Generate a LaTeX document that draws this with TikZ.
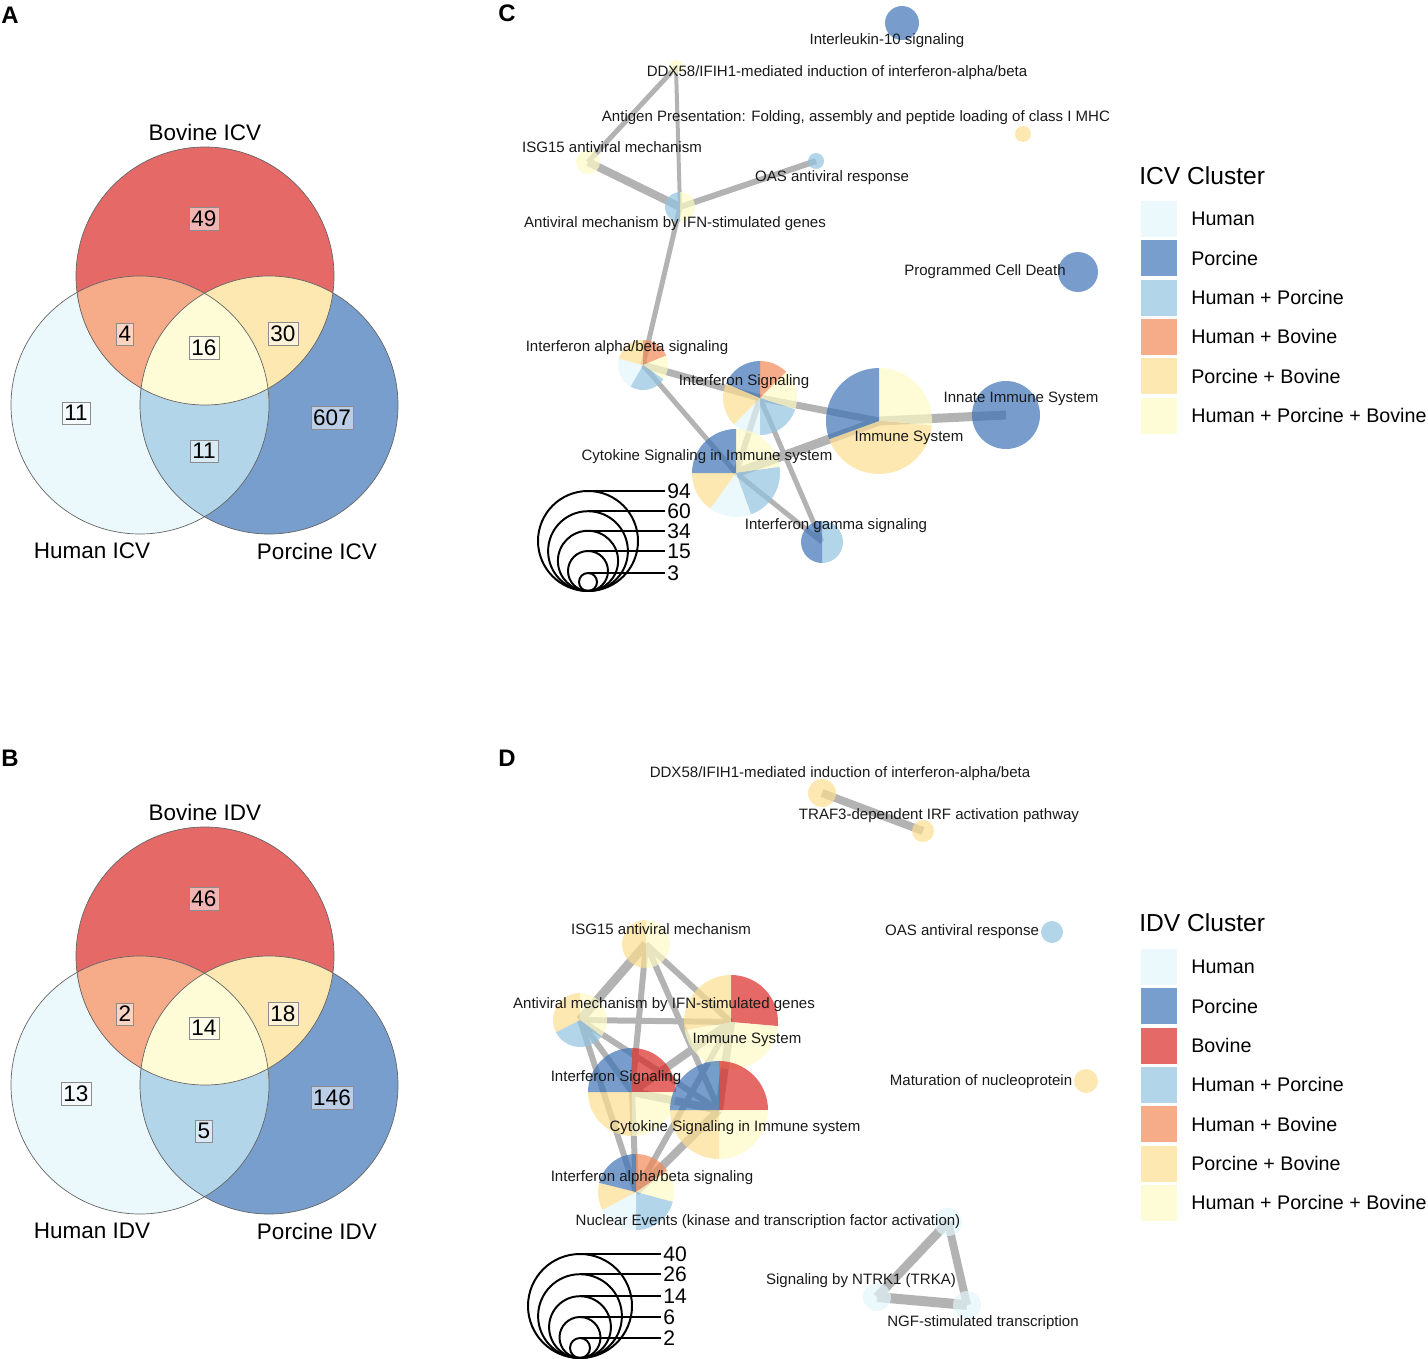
\documentclass[tikz,border=0pt]{standalone}
\usepackage{fontspec}
\setmainfont{Liberation Sans}
\definecolor{hum}{HTML}{E2F5FB}
\definecolor{por}{HTML}{3E74B8}
\definecolor{bov}{HTML}{DA2926}
\definecolor{hp}{HTML}{92C3E1}
\definecolor{hb}{HTML}{F28757}
\definecolor{pb}{HTML}{FCDE90}
\definecolor{hpb}{HTML}{FEFBC6}
\definecolor{edgegray}{HTML}{B3B3B3}
\newcommand{\pienode}[3]{\foreach \a/\b/\col in {#3}{\fill[\col,fill opacity=0.7] (#1) -- ++(\a:#2) arc[start angle=\a,end angle=\b,radius=#2] -- cycle;}}

\begin{document}
\begin{tikzpicture}[x=0.25mm,y=0.25mm,
  lab/.style={font=\fontsize{10.7}{12}\selectfont,inner sep=0pt,text=black!90},
  edgeln/.style={draw=edgegray,line width=#1*0.711pt},
  cnt/.style={draw=black!45,line width=0.4pt,fill=white,fill opacity=0.5,text opacity=1,inner xsep=1.7pt,inner ysep=2.4pt,font=\fontsize{16}{18}\selectfont},
  vlab/.style={font=\fontsize{16}{18}\selectfont,inner sep=0pt},
  vring/.style={draw=black!60,line width=0.5pt},
  sizering/.style={draw=black,line width=1.4pt},
  sizetxt/.style={font=\fontsize{15}{16}\selectfont,inner sep=0pt,anchor=west},
  legbox/.style={minimum size=9mm,inner sep=0pt},
  legtxt/.style={font=\fontsize{14}{16}\selectfont,anchor=west,inner sep=0pt},
  legtitle/.style={font=\fontsize{17.5}{20}\selectfont,anchor=west,inner sep=0pt},
  panel/.style={font=\bfseries\fontsize{17}{20}\selectfont,inner sep=0pt}]
\useasboundingbox (0,0) rectangle (1428,-1359);

% Venn diagrams A and B
\foreach \p/\dy in {a/0,b/680}{
  \coordinate (bov\p) at (205,-276-\dy);
  \coordinate (hum\p) at (140,-405-\dy);
  \coordinate (por\p) at (269,-405-\dy);
  \fill[hum!70] (hum\p) circle[radius=129];
  \fill[por!70] (por\p) circle[radius=129];
  \fill[bov!70] (bov\p) circle[radius=129];
  \begin{scope}
    \clip (hum\p) circle[radius=129];
    \fill[hp!70] (por\p) circle[radius=129];
    \fill[hb!70] (bov\p) circle[radius=129];
  \end{scope}
  \begin{scope}
    \clip (por\p) circle[radius=129];
    \fill[pb!70] (bov\p) circle[radius=129];
    \clip (hum\p) circle[radius=129];
    \fill[hpb!70] (bov\p) circle[radius=129];
  \end{scope}
  \foreach \q in {bov,hum,por} \draw[vring] (\q\p) circle[radius=129];
}
\node[vlab] (va1) at (205,-132) {Bovine ICV};
\node[vlab] (va2) at (92,-551) {Human ICV};
\node[vlab] (va3) at (317,-551) {Porcine ICV};
\foreach \n/\x/\y [count=\i] in {49/204/219,4/125/334,16/204/348,30/283/334,11/76/413,607/332/418,11/204/451}
  \node[cnt] (na\i) at (\x,-\y) {\n};
\node[vlab] (vb1) at (205,-812) {Bovine IDV};
\node[vlab] (vb2) at (92,-1231) {Human IDV};
\node[vlab] (vb3) at (317,-1231) {Porcine IDV};
\foreach \n/\x/\y [count=\i] in {46/204/899,2/125/1014,14/204/1028,18/283/1014,13/76/1094,146/332/1098,5/204/1131}
  \node[cnt] (nb\i) at (\x,-\y) {\n};

% network C
\coordinate (cil) at (902,-23);
\coordinate (cddx) at (676,-67);
\coordinate (cag) at (1023,-134);
\coordinate (cisg) at (588,-162);
\coordinate (coas) at (816,-161);
\coordinate (cavm) at (680,-207);
\coordinate (cpcd) at (1078,-272);
\coordinate (cab) at (643,-365);
\coordinate (cifn) at (760,-398);
\coordinate (cinn) at (1006,-415);
\coordinate (cimm) at (879,-421);
\coordinate (ccyt) at (736,-473);
\coordinate (cgam) at (822,-542);
\foreach \u/\v/\w in {cddx/cisg/5,cddx/cavm/4,cisg/cavm/8,cavm/coas/6,cavm/cab/5,cab/cifn/7,cab/ccyt/5,cifn/ccyt/6,cifn/cgam/5,ccyt/cgam/5,cifn/cimm/7,ccyt/cimm/9,cimm/cinn/9}
  \draw[edgeln=\w] (\u) -- (\v);
\pienode{cil}{17}{90/-270/por}
\pienode{cddx}{7}{90/-270/hpb}
\pienode{cag}{8}{90/-270/pb}
\pienode{cisg}{12}{90/-270/hpb}
\pienode{coas}{8}{90/-270/hp}
\pienode{cavm}{15}{90/-90/hpb,-90/-270/hp}
\pienode{cpcd}{20}{90/-270/por}
\pienode{cab}{25}{90/22/hb,22/-35/hpb,-35/-120/hp,-120/-195/hum,-195/-270/pb}
\pienode{cifn}{37}{90/45/hb,45/-18/hpb,-18/-90/hp,-90/-135/hum,-135/-203/pb,-203/-270/por}
\pienode{cinn}{34}{90/-270/por}
\pienode{cimm}{53}{90/-5/hpb,-5/-160/pb,-160/-270/por}
\pienode{ccyt}{44}{90/8/hpb,8/-70/hp,-70/-126/hum,-126/-180/pb,-180/-270/por}
\pienode{cgam}{21}{90/-90/hp,-90/-270/por}
\node[lab] (tcil) at (887,-41) {Interleukin-10 signaling};
\node[lab] (tcddx) at (837,-73) {DDX58/IFIH1-mediated induction of interferon-alpha/beta};
\node[lab] (tcag) at (856,-118) {Antigen Presentation: Folding, assembly and peptide loading of class I MHC};
\node[lab] (tcisg) at (612,-147) {ISG15 antiviral mechanism};
\node[lab] (tcoas) at (832,-178) {OAS antiviral response};
\node[lab] (tcavm) at (675,-224) {Antiviral mechanism by IFN-stimulated genes};
\node[lab] (tcpcd) at (985,-272) {Programmed Cell Death};
\node[lab] (tcab) at (627,-348) {Interferon alpha/beta signaling};
\node[lab] (tcifn) at (744,-382) {Interferon Signaling};
\node[lab] (tcinn) at (1021,-399) {Innate Immune System};
\node[lab] (tcimm) at (909,-438) {Immune System};
\node[lab] (tccyt) at (707,-457) {Cytokine Signaling in Immune system};
\node[lab] (tcgam) at (836,-526) {Interferon gamma signaling};
\foreach \v/\r [count=\i] in {94/50,60/39.9,34/30.1,15/20,3/9}{
  \draw[sizering] (588,-591+\r) circle[radius=\r];
  \draw[sizering] (588,-591+2*\r) -- (665,-591+2*\r);
  \node[sizetxt] (csz\i) at (667,-591+2*\r) {\v};
}

% network D
\coordinate (dddx) at (822,-793);
\coordinate (dtraf) at (923,-831);
\coordinate (disg) at (646,-944);
\coordinate (doas) at (1052,-932);
\coordinate (davm) at (580,-1020);
\coordinate (dimm) at (731,-1022);
\coordinate (difn) at (632,-1092);
\coordinate (dmat) at (1086,-1081);
\coordinate (dcyt) at (719,-1110);
\coordinate (dab) at (636,-1192);
\coordinate (dnuc) at (948,-1222);
\coordinate (dntr) at (877,-1297);
\coordinate (dngf) at (967,-1305);
\foreach \u/\v/\w in {dddx/dtraf/8,disg/davm/9,disg/dimm/6,disg/difn/6,disg/dcyt/6,davm/dimm/6,davm/difn/6,davm/dcyt/6,davm/dab/6,dimm/difn/8,dimm/dcyt/8,difn/dcyt/8,difn/dab/6,dcyt/dab/8,dimm/dab/6,dnuc/dntr/9,dnuc/dngf/8,dntr/dngf/10}
  \draw[edgeln=\w] (\u) -- (\v);
\pienode{dddx}{14}{90/-270/pb}
\pienode{dtraf}{11}{90/-270/pb}
\pienode{doas}{11}{90/-270/hp}
\pienode{dmat}{12}{90/-270/pb}
\pienode{disg}{24}{90/-90/hpb,-90/-270/pb}
\pienode{davm}{27}{90/-37/hpb,-37/-153/hp,-153/-270/pb}
\pienode{dimm}{47}{90/-5/bov,-5/-170/hpb,-170/-270/pb}
\pienode{difn}{44}{90/0/bov,0/-90/hpb,-90/-180/pb,-180/-270/por}
\pienode{dcyt}{49}{90/0/bov,0/-90/hpb,-90/-180/pb,-180/-270/por}
\pienode{dab}{38}{90/34/hb,34/-15/hpb,-15/-90/hp,-90/-152/hum,-152/-194/pb,-194/-270/por}
\pienode{dnuc}{14}{90/-270/hum}
\pienode{dntr}{14}{90/-270/hum}
\pienode{dngf}{14}{90/-270/hum}
\node[lab] (tdddx) at (840,-774) {DDX58/IFIH1-mediated induction of interferon-alpha/beta};
\node[lab] (tdtraf) at (939,-816) {TRAF3-dependent IRF activation pathway};
\node[lab] (tdisg) at (661,-929) {ISG15 antiviral mechanism};
\node[lab] (tdoas) at (962,-932) {OAS antiviral response};
\node[lab] (tdavm) at (664,-1005) {Antiviral mechanism by IFN-stimulated genes};
\node[lab] (tdimm) at (747,-1040) {Immune System};
\node[lab] (tdifn) at (616,-1078) {Interferon Signaling};
\node[lab] (tdmat) at (981,-1082) {Maturation of nucleoprotein};
\node[lab] (tdcyt) at (735,-1128) {Cytokine Signaling in Immune system};
\node[lab] (tdab) at (652,-1178) {Interferon alpha/beta signaling};
\node[lab] (tdnuc) at (768,-1222) {Nuclear Events (kinase and transcription factor activation)};
\node[lab] (tdntr) at (861,-1281) {Signaling by NTRK1 (TRKA)};
\node[lab] (tdngf) at (983,-1323) {NGF-stimulated transcription};
\foreach \v/\r [count=\i] in {40/52,26/41.9,14/30.9,6/20.5,2/10}{
  \draw[sizering] (580,-1358+\r) circle[radius=\r];
  \draw[sizering] (580,-1358+2*\r) -- (661,-1358+2*\r);
  \node[sizetxt] (dsz\i) at (663,-1358+2*\r) {\v};
}

% legends
\node[legtitle] (lct) at (1139,-176) {ICV Cluster};
\foreach \t/\col [count=\i] in {Human/hum,Porcine/por,Human + Porcine/hp,Human + Bovine/hb,Porcine + Bovine/pb,Human + Porcine + Bovine/hpb}{
  \node[legbox,fill=\col!70] (lcb\i) at (1159,-179.7-39.3*\i) {};
  \node[legtxt] (lcl\i) at (1191,-179.7-39.3*\i) {\t};
}
\node[legtitle] (ldt) at (1139,-923) {IDV Cluster};
\foreach \t/\col [count=\i] in {Human/hum,Porcine/por,Bovine/bov,Human + Porcine/hp,Human + Bovine/hb,Porcine + Bovine/pb,Human + Porcine + Bovine/hpb}{
  \node[legbox,fill=\col!70] (ldb\i) at (1159,-927.7-39.3*\i) {};
  \node[legtxt] (ldl\i) at (1191,-927.7-39.3*\i) {\t};
}

\node[panel] (pa) at (10,-15) {A};
\node[panel] (pb) at (10,-758) {B};
\node[panel] (pc) at (507,-13) {C};
\node[panel] (pd) at (507,-758) {D};
\end{tikzpicture}
\end{document}
